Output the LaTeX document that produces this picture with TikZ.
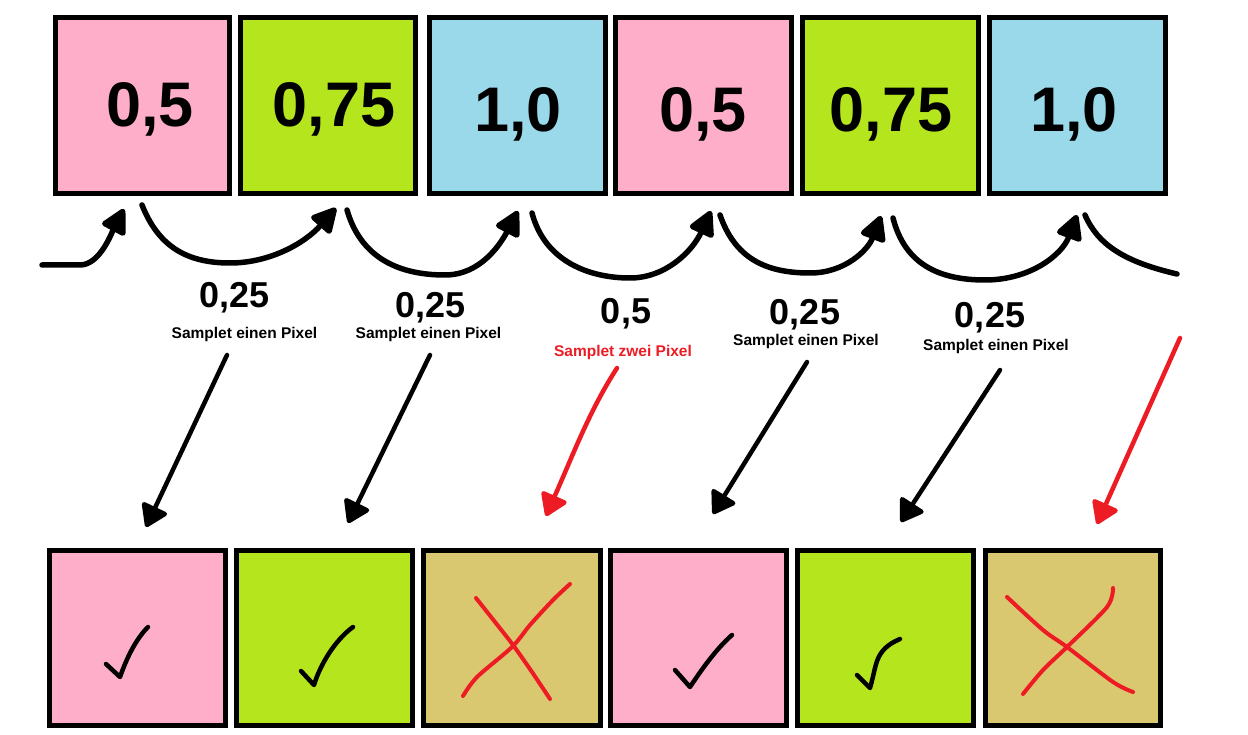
\documentclass[tikz,border=0pt]{standalone}
\usepackage{fontspec}
\setmainfont{Liberation Sans}
\usetikzlibrary{arrows.meta}
\definecolor{pk}{HTML}{FFAEC9}
\definecolor{lm}{HTML}{B5E61D}
\definecolor{lb}{HTML}{99D9EA}
\definecolor{tn}{HTML}{D9C870}
\definecolor{rd}{HTML}{ED1C24}
\begin{document}
\begin{tikzpicture}[x=1pt,y=-1pt,
  box/.style={draw=black, line width=5pt, minimum height=176pt, inner sep=0pt, outer sep=0pt},
  big/.style={font=\fontsize{63}{63}\selectfont\bfseries, inner sep=0pt, anchor=base},
  mid/.style={font=\fontsize{36}{36}\selectfont\bfseries, inner sep=0pt, anchor=base},
  small/.style={font=\fontsize{15.5}{15.5}\selectfont\bfseries, inner sep=0pt, anchor=base},
  hop/.style={line width=5.5pt, line cap=round, -{Triangle[length=28pt,width=28pt,round]}},
  hopend/.style={line width=5.5pt, line cap=round},
  pick/.style={line width=4.5pt, line cap=round, -{Triangle[length=24pt,width=30pt,round]}},
  tick/.style={line width=4.5pt, line cap=round, line join=round},
  crossline/.style={draw=rd, line width=4pt, line cap=round, line join=round}]
\useasboundingbox[fill=white] (0,0) rectangle (1248,735);

% top row
\node[box, fill=pk, minimum width=174pt] (t1) at (142.5,105.5) {};
\node[box, fill=lm, minimum width=175pt] (t2) at (328,105.5) {};
\node[box, fill=lb, minimum width=176pt] (t3) at (517.5,105.5) {};
\node[box, fill=pk, minimum width=176pt] (t4) at (703.5,105.5) {};
\node[box, fill=lm, minimum width=176pt] (t5) at (890.5,105.5) {};
\node[box, fill=lb, minimum width=176pt] (t6) at (1077.5,105.5) {};
\node[big] (v1) at (150,127) {0,5};
\node[big] (v2) at (334,127) {0,75};
\node[big] (v3) at (518,132) {1,0};
\node[big] (v4) at (703,132) {0,5};
\node[big] (v5) at (891,132) {0,75};
\node[big] (v6) at (1074,132) {1,0};

% bottom row
\node[box, fill=pk, minimum width=176pt, minimum height=175pt] (b1) at (137.5,638) {};
\node[box, fill=lm, minimum width=176pt, minimum height=175pt] (b2) at (324.5,638) {};
\node[box, fill=tn, minimum width=177pt, minimum height=175pt] (b3) at (512,638) {};
\node[box, fill=pk, minimum width=176pt, minimum height=175pt] (b4) at (698.5,638) {};
\node[box, fill=lm, minimum width=176pt, minimum height=175pt] (b5) at (885.5,638) {};
\node[box, fill=tn, minimum width=175pt, minimum height=175pt] (b6) at (1073,638) {};

% labels
\node[mid] (l1) at (234.5,308) {0,25};
\node[small] (s1) at (244.5,338) {Samplet einen Pixel};
\node[mid] (l2) at (430.5,318) {0,25};
\node[small] (s2) at (428.5,339) {Samplet einen Pixel};
\node[mid] (l3) at (626,324) {0,5};
\node[small, text=rd] (s3) at (623,356) {Samplet zwei Pixel};
\node[mid] (l4) at (805,325) {0,25};
\node[small] (s4) at (806,346) {Samplet einen Pixel};
\node[mid] (l5) at (990,328) {0,25};
\node[small] (s5) at (996,351) {Samplet einen Pixel};

% hop arcs
\coordinate (a0s) at (42,265);
\coordinate (a0t) at (124,209);
\coordinate (a1s) at (142,205);
\coordinate (a1t) at (336,208);
\coordinate (a2s) at (347,210);
\coordinate (a2t) at (518,211);
\coordinate (a3s) at (532,213);
\coordinate (a3t) at (711,211);
\coordinate (a4s) at (720,215);
\coordinate (a4t) at (881,216);
\coordinate (a5s) at (893,218);
\coordinate (a5t) at (1077,215);
\coordinate (a6s) at (1085,215);
\coordinate (a6e) at (1177,274);
\draw[hop] (a0s) -- (80,265) .. controls (100,265) and (112,232) .. (a0t);
\draw[hop] (a1s) .. controls (158,245) and (185,263) .. (230,263) .. controls (270,263) and (305,243) .. (a1t);
\draw[hop] (a2s) .. controls (360,255) and (395,275) .. (445,275) .. controls (480,275) and (500,245) .. (a2t);
\draw[hop] (a3s) .. controls (545,262) and (590,278) .. (630,278) .. controls (665,278) and (692,252) .. (a3t);
\draw[hop] (a4s) .. controls (735,258) and (765,273) .. (810,273) .. controls (845,273) and (868,250) .. (a4t);
\draw[hop] (a5s) .. controls (905,265) and (940,280) .. (985,280) .. controls (1030,280) and (1062,255) .. (a5t);
\draw[hopend] (a6s) .. controls (1098,245) and (1125,262) .. (a6e);

% pick arrows
\coordinate (p1s) at (227,355);
\coordinate (p1e) at (146,527);
\coordinate (p2s) at (430,355);
\coordinate (p2e) at (348,523);
\coordinate (p3s) at (617,368);
\coordinate (p3e) at (546,516);
\coordinate (p4s) at (807,362);
\coordinate (p4e) at (713,514);
\coordinate (p5s) at (1000,370);
\coordinate (p5e) at (901,522);
\coordinate (p6s) at (1180,338);
\coordinate (p6e) at (1097,524);
\draw[pick] (p1s) -- (p1e);
\draw[pick] (p2s) -- (p2e);
\draw[pick, rd] (p3s) .. controls (590,410) and (575,450) .. (p3e);
\draw[pick] (p4s) -- (p4e);
\draw[pick] (p5s) -- (p5e);
\draw[pick, rd] (p6s) -- (p6e);

% ticks
\draw[tick] (106,664) -- (120,677) .. controls (126,660) and (135,640) .. (148,627);
\draw[tick] (301,671) -- (314,685) .. controls (320,665) and (335,640) .. (353,627);
\draw[tick] (675,670) -- (690,687) .. controls (700,672) and (715,650) .. (732,635);
\draw[tick] (857,675) -- (870,688) .. controls (877,665) and (874,650) .. (900,639);

% crosses
\draw[crossline] plot[smooth] coordinates {(476,598) (495,622) (513,645) (532,672) (550,699)};
\draw[crossline] plot[smooth] coordinates {(570,584) (553,600) (530,625) (512,647) (477,677) (463,696)};
\draw[crossline] plot[smooth] coordinates {(1007,597) (1043,630) (1067,647) (1113,682) (1133,692)};
\draw[crossline] plot[smooth] coordinates {(1113,588) (1107,607) (1067,647) (1043,670) (1023,694)};
\end{tikzpicture}
\end{document}
